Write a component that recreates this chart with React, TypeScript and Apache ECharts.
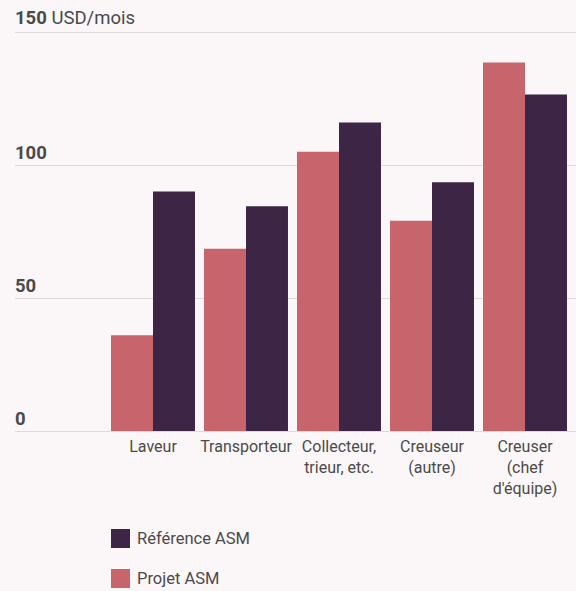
import React, { useEffect, useRef } from "react";
import * as echarts from "echarts";

const categories = ["Laveur", "Transporteur", "Collecteur,\ntrieur, etc.", "Creuseur\n(autre)", "Creuser\n(chef\nd'équipe)"];
const projetASM = [36, 68.5, 105, 79, 138.5];
const referenceASM = [90, 84.5, 116, 93.5, 126.5];
const yTicks = [0, 50, 100, 150];

const PINK = "#c8646b";
const DARK = "#3d2546";
const BG = "#fbf7f8";
const TXT = "#4a4a4a";

export default function App() {
  const ref = useRef<HTMLDivElement>(null);
  useEffect(() => {
    const chart = echarts.init(ref.current!, null, { renderer: "svg" });
    const gridTop = 32;
    const gridBottom = 160;
    chart.setOption({
      animation: false,
      backgroundColor: BG,
      textStyle: { fontFamily: "Roboto" },
      grid: [
        { left: 15, right: 0, top: gridTop, bottom: gridBottom },
        { left: 106.5, right: 4.5, top: gridTop, bottom: gridBottom },
      ],
      xAxis: [
        { gridIndex: 0, type: "value", min: 0, max: 1, show: false },
        {
          gridIndex: 1,
          type: "category",
          data: categories,
          axisLine: { show: false },
          axisTick: { show: false },
          axisLabel: { interval: 0, color: TXT, fontSize: 16, lineHeight: 21, margin: 5, fontFamily: "Roboto" },
        },
      ],
      yAxis: [
        {
          gridIndex: 0,
          type: "value",
          min: 0,
          max: 150,
          interval: 50,
          axisLine: { show: false },
          axisTick: { show: false },
          splitLine: { show: true, lineStyle: { color: "#dedada", width: 1 } },
          axisLabel: {
            inside: true,
            margin: 0,
            verticalAlign: "bottom",
            formatter: (v: number) => (v === yTicks[3] ? `{t|${v}}{u| USD/mois}` : `{b|${v}}`),
            rich: {
              b: { fontWeight: "bold", fontSize: 18.5, color: TXT, fontFamily: "Roboto", padding: [0, 0, 3, 0] },
              t: { fontWeight: "bold", fontSize: 18.5, color: TXT, fontFamily: "Roboto", padding: [0, 0, 5, 0] },
              u: { fontSize: 18.5, color: TXT, fontFamily: "Roboto", padding: [0, 0, 5, 0] },
            },
          },
        },
        { gridIndex: 1, type: "value", min: 0, max: 150, interval: 50, show: false },
      ],
      legend: {
        orient: "vertical",
        left: 111,
        top: 529,
        padding: 0,
        height: 62,
        itemWidth: 19,
        itemHeight: 19,
        itemGap: 21,
        icon: "rect",
        data: ["Référence ASM", "Projet ASM"],
        textStyle: { color: TXT, fontSize: 16.5, fontFamily: "Roboto", padding: [0, 0, 0, 2] },
      },
      series: [
        {
          name: "Projet ASM",
          type: "bar",
          xAxisIndex: 1,
          yAxisIndex: 1,
          data: projetASM,
          itemStyle: { color: PINK },
          barGap: "0%",
          barCategoryGap: "9.7%",
        },
        {
          name: "Référence ASM",
          type: "bar",
          xAxisIndex: 1,
          yAxisIndex: 1,
          data: referenceASM,
          itemStyle: { color: DARK },
          barGap: "0%",
          barCategoryGap: "9.7%",
        },
      ],
    });
    return () => chart.dispose();
  }, []);
  return <div ref={ref} style={{ width: 576, height: 591, position: "absolute", left: 0, top: 0 }} />;
}
